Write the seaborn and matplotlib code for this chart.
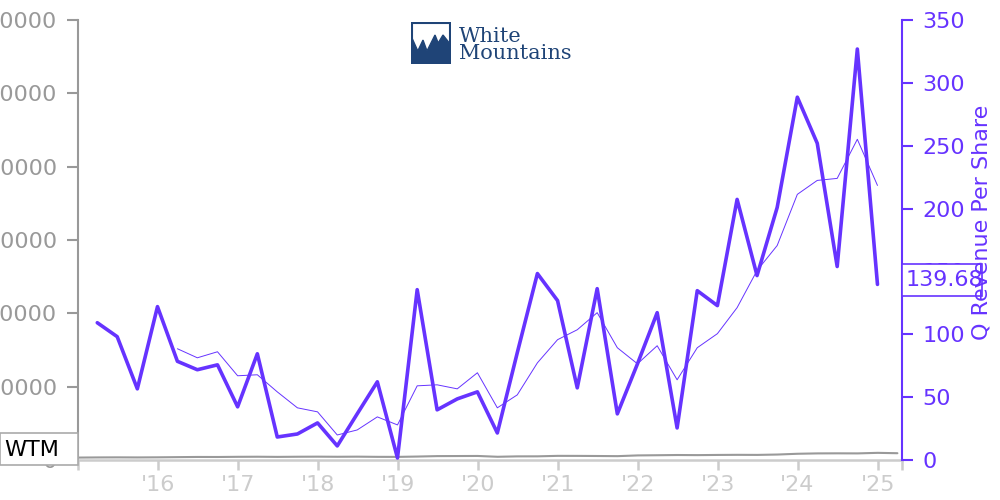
import matplotlib
matplotlib.use('Agg')
import matplotlib.pyplot as plt
import matplotlib.transforms as mtransforms
from matplotlib.patches import Rectangle, Polygon
import seaborn as sns
import pandas as pd
import numpy as np

sns.set_style('white')
plt.rcParams['font.family'] = ['DejaVu Sans']

PURPLE = '#6633ff'
GRAY = '#999999'
LIGHT = '#cccccc'
LOGO = '#1f4477'

# ---------------- data ----------------
quarters = pd.period_range('2015Q1', '2024Q4', freq='Q')
q_revenue = [109.2, 98.1, 56.6, 122.0, 78.5, 71.8, 75.7, 42.3, 84.5, 18.3,
             20.7, 29.5, 11.2, 36.7, 62.2, 1.6, 135.5, 39.9, 48.6, 54.2,
             21.5, 85.3, 148.3, 126.8, 57.4, 136.3, 36.7, 76.5, 117.2, 25.5,
             134.7, 122.8, 207.3, 146.7, 200.9, 288.6, 251.9, 153.9, 326.9, 139.68]
# trailing four-quarter average (starts with the 5th quarter)
q_revenue_avg = [np.nan] * 4 + [88.5, 81.3, 86.1, 67.0, 67.8, 54.2, 41.5, 38.3, 19.9, 23.9,
                                34.3, 27.9, 59.0, 59.8, 56.6, 69.4, 41.5, 51.8, 77.3, 95.7,
                                103.6, 117.2, 89.3, 76.5, 90.9, 63.8, 89.3, 100.5, 121.2, 150.7,
                                170.6, 211.3, 222.4, 224.0, 255.1, 218.4]

price_periods = pd.period_range('2015Q1', '2025Q2', freq='Q')
wtm_price = [660, 700, 720, 700, 730, 780, 830, 820, 870, 890, 850, 890,
             910, 880, 910, 860, 850, 940, 1060, 1080, 1100, 880, 990, 1000,
             1130, 1120, 1090, 1050, 1250, 1300, 1360, 1330, 1380, 1410, 1390, 1490,
             1700, 1800, 1820, 1800, 1950, 1850]

year_ticks = list(range(2016, 2026))
year_labels = ["'16", "'17", "'18", "'19", "'20", "'21", "'22", "'23", "'24", "'25"]
left_ticks = [0, 20000, 40000, 60000, 80000, 100000, 120000]
right_ticks = [0, 50, 100, 150, 200, 250, 300, 350]

rev_df = pd.DataFrame({'date': quarters.end_time.normalize(),
                       'rev': q_revenue, 'avg': q_revenue_avg})
price_df = pd.DataFrame({'date': price_periods.start_time, 'price': wtm_price})

# ---------------- figure ----------------
fig = plt.figure(figsize=(10, 5), dpi=100)
ax = fig.add_axes([0.078, 0.08, 0.824, 0.88])
ax2 = ax.twinx()

sns.lineplot(data=price_df, x='date', y='price', ax=ax, color=GRAY, linewidth=1.5)
sns.lineplot(data=rev_df, x='date', y='avg', ax=ax2, color=PURPLE, linewidth=0.7)
sns.lineplot(data=rev_df, x='date', y='rev', ax=ax2, color=PURPLE, linewidth=2.6)

xmin = pd.Timestamp('2015-01-02')
xmax = pd.Timestamp('2025-04-22')
ax.set_xlim(xmin, xmax)
ax.set_ylim(0, 120000)
ax2.set_ylim(0, 350)

xt = [xmin] + [pd.Timestamp(f'{y}-01-01') for y in year_ticks] + [xmax]
ax.set_xticks(xt)
ax.set_xticklabels([''] + year_labels + [''])
ax.set_yticks(left_ticks)
ax.set_yticklabels([str(v) for v in left_ticks])
ax2.set_yticks(right_ticks)
ax2.set_yticklabels([str(v) for v in right_ticks])

for a in (ax, ax2):
    a.set_xlabel('')
    a.set_ylabel('')
    a.spines['top'].set_visible(False)

ax.spines['right'].set_visible(False)
ax.spines['left'].set_color(GRAY)
ax.spines['left'].set_linewidth(1.5)
ax.spines['bottom'].set_color(LIGHT)
ax.spines['bottom'].set_linewidth(1.8)
ax2.spines['left'].set_visible(False)
ax2.spines['bottom'].set_visible(False)
ax2.spines['right'].set_color(PURPLE)
ax2.spines['right'].set_linewidth(1.5)

ax.tick_params(axis='x', colors=LIGHT, labelsize=16, length=7.5, width=1.8,
               direction='out', bottom=True, pad=3)
ax.tick_params(axis='y', colors=GRAY, labelsize=16, length=8, width=1.5,
               direction='out', left=True, pad=7)
ax2.tick_params(axis='y', colors=PURPLE, labelsize=16, length=8, width=1.5,
                direction='out', right=True, pad=6.5)
ax.grid(False)
ax2.grid(False)

# last value box on the right axis (fixed-width box, value drawn on top)
last_val = q_revenue[-1]
trans = mtransforms.blended_transform_factory(ax2.transAxes, ax2.transData)
ax2.add_patch(Rectangle((1.0, last_val - 9.0), 0.0971, 25.6, transform=trans,
                        fc='white', ec=PURPLE, lw=1.2, clip_on=False, zorder=5))
ax2.text(1.0049, last_val + 3.6, f'{last_val:.2f}', transform=trans,
         ha='left', va='center', color=PURPLE, fontsize=16, clip_on=False, zorder=6)

# right axis title
fig.text(0.981, 0.555, 'Q Revenue Per Share', rotation=90, ha='center', va='center',
         color=PURPLE, fontsize=16, zorder=10)

# WTM label box at left
fig.add_artist(Rectangle((0.0, 0.07), 0.078, 0.064, transform=fig.transFigure,
                         fc='white', ec='#aaaaaa', lw=1.2, zorder=6))
fig.text(0.004, 0.101, 'WTM', ha='left', va='center', color='black', fontsize=16, zorder=7)

# logo
lax = fig.add_axes([0.411, 0.872, 0.040, 0.084])
lax.set_xlim(0, 1)
lax.set_ylim(0, 1)
lax.axis('off')
lax.add_patch(Rectangle((0.02, 0.02), 0.96, 0.95, fc='white', ec=LOGO, lw=1.5))
lax.add_patch(Polygon([(0, 0), (0, 0.67), (0.17, 0.31), (0.3, 0.57), (0.4, 0.31),
                       (0.6, 0.69), (0.68, 0.5), (0.8, 0.69), (1.0, 0.45), (1.0, 0)],
                      closed=True, fc=LOGO, ec=LOGO))
fig.text(0.459, 0.9166, 'White', ha='left', va='baseline', color=LOGO,
         fontsize=15, family=['DejaVu Serif'])
fig.text(0.459, 0.8814, 'Mountains', ha='left', va='baseline', color=LOGO,
         fontsize=15, family=['DejaVu Serif'])

fig.savefig('out.png', dpi=100)
